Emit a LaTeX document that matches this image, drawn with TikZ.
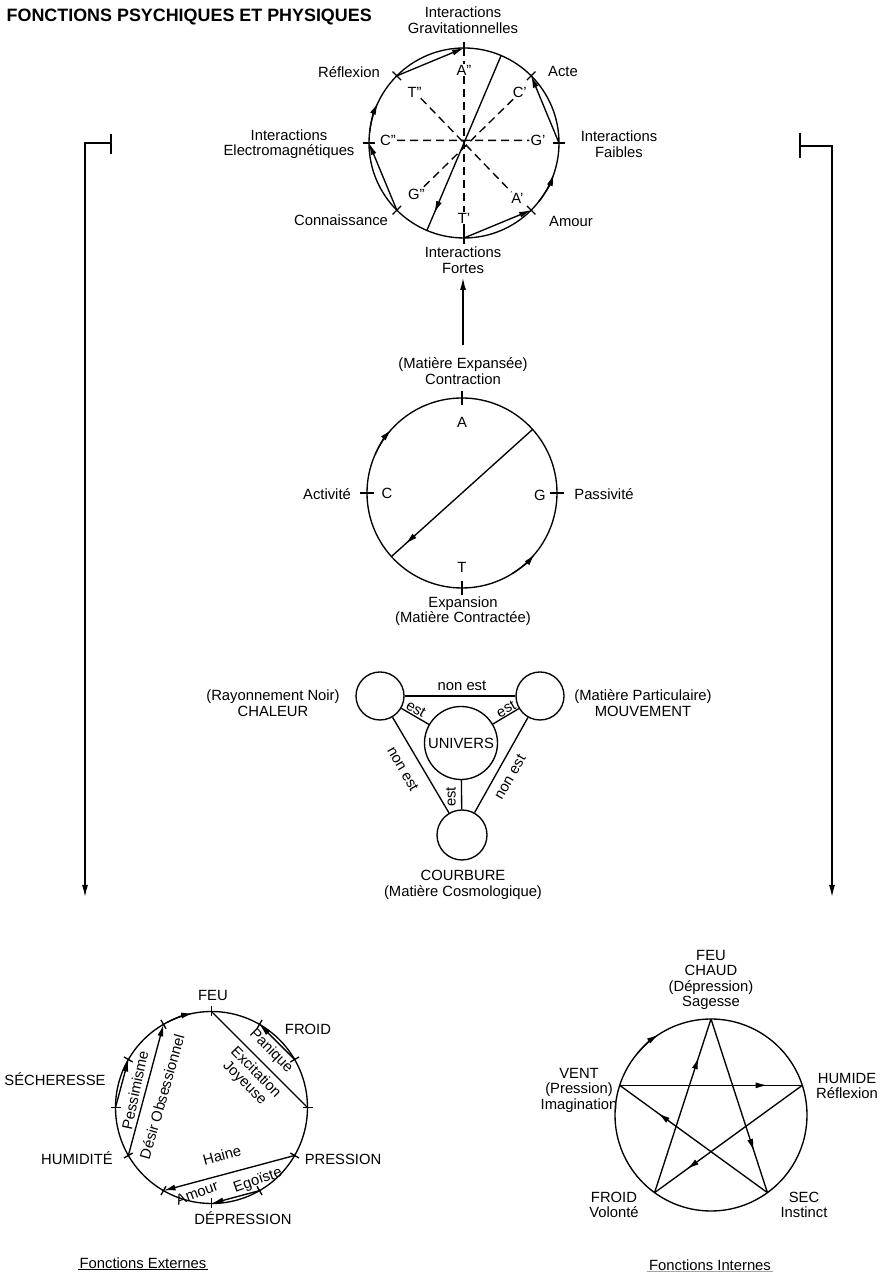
\documentclass[tikz,border=0pt]{standalone}
\usepackage{fontspec}
\setmainfont{Liberation Sans}
\usetikzlibrary{arrows.meta,calc,decorations.markings}
\begin{document}
\begin{tikzpicture}[x=1pt,y=1pt,
  every node/.style={font=\fontsize{14.8}{15.5}\selectfont, inner sep=1.5pt},
  ln/.style={line width=1.35pt},
  tip/.style={-{Latex[length=12pt,width=6pt]}},
  midarr/.style={postaction={decorate},decoration={markings,mark=at position #1 with {\arrow{Latex[length=12pt,width=6pt]}}}},
  dsh/.style={line width=1.35pt,dash pattern=on 8pt off 5pt},
  lbl/.style={align=center},
  inl/.style={fill=white,inner sep=1pt},
  tk/.style={line width=1.35pt},
  smallc/.style={circle,draw,line width=1.35pt,minimum size=48pt,inner sep=0pt}]
\useasboundingbox (0,0) rectangle (889,1280);
\fill[white] (0,0) rectangle (889,1280);

% ---------- title ----------
\node[anchor=west,font=\fontsize{17.9}{20}\selectfont\bfseries] (title) at (5,1263) {FONCTIONS PSYCHIQUES ET PHYSIQUES};

% ---------- top circle ----------
\coordinate (T0) at (464,1137);
\draw[ln] (T0) circle[radius=95];
\foreach \a in {0,45,...,315}{
  \coordinate (ta\a) at ($(T0)+(\a:95)$);
  \draw[tk] ($(T0)+(\a:89)$) -- ($(T0)+(\a:101)$);
}
\node[inl] (App) at ($(T0)+(90:73)$) {A''};
\node[inl] (Cp)  at ($(T0)+(42:75)$) {C'};
\node[inl] (Gp)  at ($(T0)+(2:74)$) {G'};
\node[inl] (Ap)  at ($(T0)+(-46:77)$) {A'};
\node[inl] (Tp)  at ($(T0)+(270:75)$) {T'};
\node[inl] (Gpp) at ($(T0)+(227:70)$) {G''};
\node[inl] (Cpp) at ($(T0)+(178:76)$) {C''};
\node[inl] (Tpp) at ($(T0)+(134:71)$) {T''};
\draw[dsh] (ta90) -- (App);
\draw[dsh] (App) -- (Tp);
\draw[dsh] (Tp) -- (ta270);
\draw[dsh] (Cpp) -- (Gp);
\draw[dsh] (Tpp) -- (Ap);
\draw[dsh] (Cp) -- (Gpp);
\draw[ln,tip] (ta135) -- (ta90);
\draw[ln,tip] (ta225) -- (ta180);
\draw[ln,tip] (ta270) -- (ta315);
\draw[ln,tip] (ta0) -- (ta45);
\coordinate (td1) at ($(T0)+(67:95)$);
\coordinate (td2) at ($(T0)+(247:95)$);
\draw[ln,midarr=0.9] (td1) -- (td2);
\draw[ln,tip] ($(T0)+(174:95)$) arc[start angle=174,end angle=155,radius=95];
\draw[ln,tip] ($(T0)+(322:95)$) arc[start angle=322,end angle=341,radius=95];

\node[lbl] (grav) at (463,1260) {Interactions\\Gravitationnelles};
\node (refl) at (349,1208) {Réflexion};
\node (acte) at (563,1209) {Acte};
\node[lbl] (em) at (289,1136) {Interactions\\Electromagnétiques};
\node[lbl] (faib) at (619,1136) {Interactions\\Faibles};
\node (conn) at (341,1060) {Connaissance};
\node (amour) at (571,1059) {Amour};
\node[lbl] (fortes) at (463,1020) {Interactions\\Fortes};

% ---------- middle circle ----------
\coordinate (M0) at (462,787);
\draw[ln] (M0) circle[radius=95];
\foreach \a in {0,90,180,270}{
  \coordinate (ma\a) at ($(M0)+(\a:95)$);
  \draw[tk] ($(M0)+(\a:88)$) -- ($(M0)+(\a:102)$);
}
\node (mA) at ($(M0)+(90:71)$) {A};
\node (mC) at ($(M0)+(180:75)$) {C};
\node (mG) at ($(M0)+(-2:78)$) {G};
\node (mT) at ($(M0)+(270:74)$) {T};
\coordinate (md1) at ($(M0)+(42:95)$);
\coordinate (md2) at ($(M0)+(222:95)$);
\draw[ln,midarr=0.9] (md1) -- (md2);
\draw[ln,tip] ($(M0)+(156:95)$) arc[start angle=156,end angle=138,radius=95];
\draw[ln,tip] ($(M0)+(302:95)$) arc[start angle=302,end angle=320,radius=95];
\node[lbl] (contr) at (463,909) {(Matière Expansée)\\Contraction};
\node (activ) at (327,786) {Activité};
\node (passiv) at (604,786) {Passivité};
\node[lbl] (expan) at (463,669) {Expansion\\(Matière Contractée)};
\draw[ln,tip,shorten <=11pt,shorten >=3pt] (contr) -- (fortes);

% ---------- triangle ----------
\node[smallc] (Lc) at (380,584) {};
\node[smallc] (Rc) at (540,584) {};
\node[smallc,minimum size=50pt] (Bc) at (462,445) {};
\node[circle,draw,line width=1.35pt,minimum size=73pt,inner sep=0pt] (Uc) at (461,537) {UNIVERS};
\draw[ln] (Lc) -- (Rc);
\draw[ln] (Lc) -- (Uc);
\draw[ln] (Rc) -- (Uc);
\draw[ln] (Uc) -- (Bc);
\draw[ln] (Lc) -- (Bc);
\draw[ln] (Rc) -- (Bc);
\node (ne1) at (462,594) {non est};
\node[rotate=-30] (es1) at (416,571) {est};
\node[rotate=30] (es2) at (506,571) {est};
\node[rotate=90] (es3) at (451,483) {est};
\node[rotate=-60] (ne2) at (403,511) {non est};
\node[rotate=60] (ne3) at (510,503) {non est};
\node[lbl] (chal) at (273,577) {(Rayonnement Noir)\\CHALEUR};
\node[lbl] (mouv) at (643,577) {(Matière Particulaire)\\MOUVEMENT};
\node[lbl] (courb) at (463,395) {COURBURE\\(Matière Cosmologique)};

% ---------- side connectors ----------
\coordinate (lt1) at (111,1146);
\coordinate (lt2) at (111,1126);
\coordinate (lh) at (111,1137);
\coordinate (lc) at (85,1137);
\coordinate (le) at (85,383);
\draw[ln] (lt1) -- (lt2);
\draw[ln,tip] (lh) -- (lc) -- (le);
\coordinate (rt1) at (800,1147);
\coordinate (rt2) at (800,1122);
\coordinate (rh) at (800,1134);
\coordinate (rc) at (832,1134);
\coordinate (re) at (832,383);
\draw[ln] (rt1) -- (rt2);
\draw[ln,tip] (rh) -- (rc) -- (re);

% ---------- bottom left ----------
\coordinate (BL) at (211.5,172.5);
\draw[ln] (BL) circle[radius=96];
\foreach \a in {0,30,...,330}{
  \coordinate (bl\a) at ($(BL)+(\a:96)$);
  \draw[tk] ($(BL)+(\a:91)$) -- ($(BL)+(\a:101)$);
}
\draw[ln] (bl90) -- (bl0);
\draw[ln,tip] (bl30) -- (bl60);
\draw[ln,tip] (bl180) -- (bl150);
\draw[ln,tip] (bl210) -- (bl120);
\draw[ln,tip] (bl330) -- (bl240);
\draw[ln,tip] (bl300) -- (bl270);
\draw[ln,tip] ($(BL)+(118:96)$) arc[start angle=118,end angle=101,radius=96];
\node (feu1) at (213,285) {FEU};
\node (froid1) at (308,251) {FROID};
\node (sech) at (55,201) {SÉCHERESSE};
\node (humi) at (77,122) {HUMIDITÉ};
\node (press) at (343,121) {PRESSION};
\node (depr) at (243,62) {DÉPRESSION};
\node[lbl,rotate=-45] (excj) at (250,202) {Excitation\\Joyeuse};
\node[rotate=-45] (paniq) at (271,229) {Panique};
\node[rotate=78] (pessi) at (135,190) {Pessimisme};
\node[rotate=74] (desir) at (162,183) {Désir Obsessionnel};
\node[rotate=15] (haine) at (222,125) {Haine};
\node[rotate=20] (amo) at (197,87) {Amour};
\node[rotate=19] (ego) at (258,99) {Egoïste};
\node (fext) at (143,17) {Fonctions Externes};
\draw[line width=1pt] ([yshift=1pt]fext.south west) -- ([yshift=1pt]fext.south east);

% ---------- bottom right pentagram ----------
\coordinate (BR) at (711,165);
\draw[ln] (BR) circle[radius=96];
\foreach \a in {18,90,162,234,306}{
  \coordinate (pk\a) at ($(BR)+(\a:96)$);
}
\draw[ln,midarr=0.78] (pk234) -- (pk90);
\draw[ln,midarr=0.76] (pk90) -- (pk306);
\draw[ln,midarr=0.74] (pk306) -- (pk162);
\draw[ln,midarr=0.81] (pk162) -- (pk18);
\draw[ln,midarr=0.78] (pk18) -- (pk234);
\draw[ln,tip] ($(BR)+(140:96)$) arc[start angle=140,end angle=123,radius=96];
\node[lbl] (feu2) at (711,300) {FEU\\CHAUD\\(Dépression)\\Sagesse};
\node[lbl] (vent) at (579,190) {VENT\\(Pression)\\Imagination};
\node[lbl] (humd) at (847,194) {HUMIDE\\Réflexion};
\node[lbl] (froid2) at (614,75) {FROID\\Volonté};
\node[lbl] (sec) at (804,75) {SEC\\Instinct};
\node (fint) at (710,15) {Fonctions Internes};
\draw[line width=1pt,black!35] ([yshift=1pt]fint.south west) -- ([yshift=1pt]fint.south east);
\end{tikzpicture}
\end{document}
